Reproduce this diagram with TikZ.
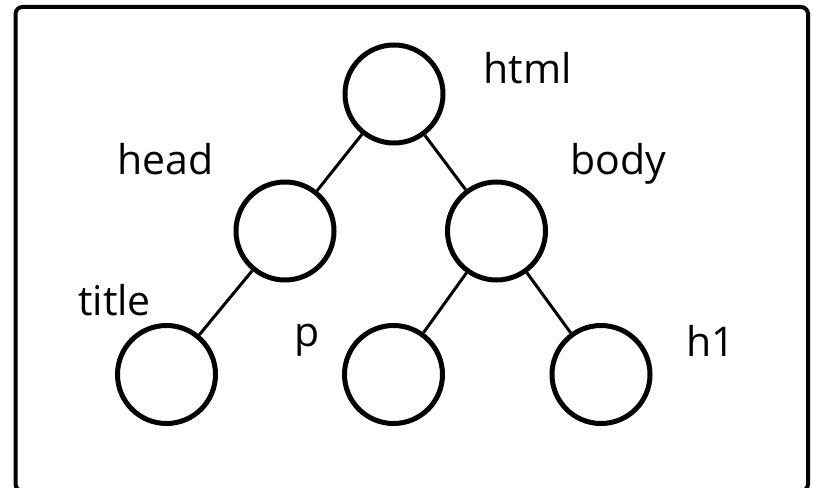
\documentclass[tikz,border=0pt]{standalone}
\usepackage{fontspec}
\setmainfont{Open Sans}
\begin{document}
\begin{tikzpicture}[x=1pt,y=-1pt,
  treenode/.style={circle,draw,line width=5pt,minimum size=98pt,inner sep=0pt},
  edge/.style={line width=3pt},
  lbl/.style={anchor=base,inner sep=0pt,font=\fontsize{41}{48}\selectfont}]
\useasboundingbox (0,0) rectangle (813,487);
\draw[line width=4pt,rounded corners=7pt] (15.5,7) rectangle (808,491);
\node[treenode] (html) at (394,94) {};
\node[treenode] (head) at (285,231) {};
\node[treenode] (body) at (496.5,231) {};
\node[treenode] (title) at (166.5,374.5) {};
\node[treenode] (p) at (393.5,374.5) {};
\node[treenode] (h1) at (601,374.5) {};
\draw[edge] (html) -- (head);
\draw[edge] (html) -- (body);
\draw[edge] (head) -- (title);
\draw[edge] (body) -- (p);
\draw[edge] (body) -- (h1);
\node[lbl] (lhtml) at (527.5,83) {html};
\node[lbl] (lhead) at (165.5,174) {head};
\node[lbl] (lbody) at (618,174) {body};
\node[lbl] (ltitle) at (114.5,315) {title};
\node[lbl] (lp) at (307.5,346) {p};
\node[lbl] (lh1) at (711,356) {h1};
\end{tikzpicture}
\end{document}
